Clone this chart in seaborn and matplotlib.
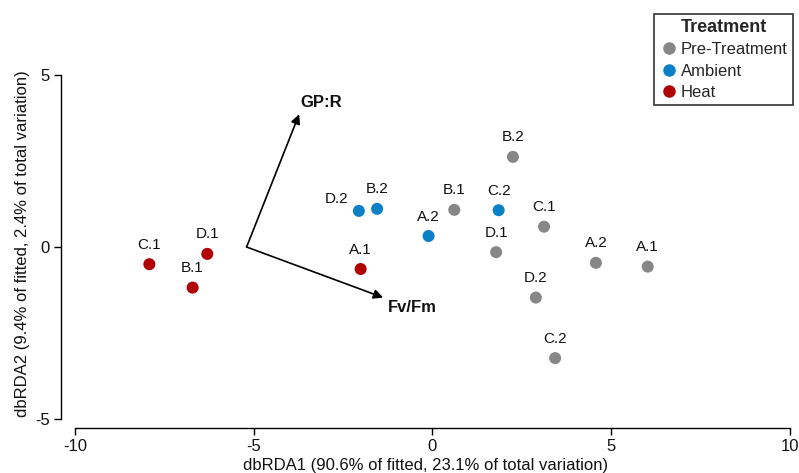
#!/usr/bin/env python3
"""dbRDA ordination plot: samples by treatment with fitted trait vectors."""

import matplotlib
matplotlib.use("Agg")
import matplotlib.pyplot as plt
import pandas as pd
import seaborn as sns

# sample scores (dbRDA1, dbRDA2)
pre_labels = ["B.2", "B.1", "C.2", "C.1", "D.1", "A.2", "A.1", "D.2"]
pre_x = [2.25, 0.61, 3.43, 3.12, 1.78, 4.57, 6.02, 2.89]
pre_y = [2.62, 1.08, -3.23, 0.59, -0.15, -0.46, -0.57, -1.47]

amb_labels = ["D.2", "B.2", "A.2", "C.2"]
amb_x = [-2.06, -1.55, -0.11, 1.85]
amb_y = [1.05, 1.11, 0.32, 1.07]

heat_labels = ["C.1", "B.1", "D.1", "A.1"]
heat_x = [-7.92, -6.71, -6.30, -2.01]
heat_y = [-0.50, -1.18, -0.20, -0.64]

treatments = ["Pre-Treatment", "Ambient", "Heat"]
colors = ["#878787", "#0b80c6", "#b00000"]

# fitted vectors
vec_names = ["GP:R", "Fv/Fm"]
vec_origin = (-5.20, 0.0)
vec_x = [-3.73, -1.38]
vec_y = [3.86, -1.47]

xlab = "dbRDA1 (90.6% of fitted, 23.1% of total variation)"
ylab = "dbRDA2 (9.4% of fitted, 2.4% of total variation)"


def main():
    df = pd.concat([
        pd.DataFrame({"x": pre_x, "y": pre_y, "label": pre_labels, "Treatment": treatments[0]}),
        pd.DataFrame({"x": amb_x, "y": amb_y, "label": amb_labels, "Treatment": treatments[1]}),
        pd.DataFrame({"x": heat_x, "y": heat_y, "label": heat_labels, "Treatment": treatments[2]}),
    ], ignore_index=True)

    sns.set_theme(style="white")
    plt.rcParams["font.family"] = ["Liberation Sans", "DejaVu Sans"]
    plt.rcParams["axes.unicode_minus"] = False

    W, H = 799, 473
    fig = plt.figure(figsize=(W / 100, H / 100), dpi=100)
    # axes box in pixels: left spine at x=61, bottom spine at y=428
    left, right, top, bottom = 61, 790, 60, 428
    ax = fig.add_axes([left / W, 1 - bottom / H, (right - left) / W, (bottom - top) / H])

    sns.scatterplot(data=df, x="x", y="y", hue="Treatment", hue_order=treatments,
                    palette=colors, s=75, edgecolor="none", ax=ax)

    # sample labels above each point
    nudge = {("Ambient", "D.2"): (-16, 8.5)}
    for _, r in df.iterrows():
        dx, dy = nudge.get((r["Treatment"], r["label"]), (0, 14))
        ax.annotate(r["label"], (r["x"], r["y"]), xytext=(dx, dy), textcoords="offset points",
                    ha="center", va="center", fontsize=11, color="#111111")

    # vectors
    label_off = [(16, 8.4), (21, -7)]
    for name, vx, vy, off in zip(vec_names, vec_x, vec_y, label_off):
        ax.annotate("", xy=(vx, vy), xytext=vec_origin,
                    arrowprops=dict(arrowstyle="-|>", mutation_scale=14, lw=1.2,
                                    color="black", shrinkA=0, shrinkB=0))
        ax.annotate(name, (vx, vy), xytext=off, textcoords="offset points",
                    ha="center", va="center", fontsize=12, fontweight="bold", color="#111111")

    # R-style axes with lines limited to tick range (x=-10 sits at px 75)
    px_per_x, px_per_y = 35.75, 34.4
    ax.set_xlim(-10 - (75 - left) / px_per_x, 10)
    ax.set_ylim(-5 - (bottom - 419) / px_per_y, 5 + (75 - top) / px_per_y)
    ax.set_xticks([-10, -5, 0, 5, 10])
    ax.set_yticks([-5, 0, 5])
    for s in ["top", "right"]:
        ax.spines[s].set_visible(False)
    ax.spines["left"].set_bounds(-5, 5)
    ax.spines["bottom"].set_bounds(-10, 10)
    for s in ["left", "bottom"]:
        ax.spines[s].set_color("black")
        ax.spines[s].set_linewidth(1.0)
    ax.tick_params(axis="both", direction="out", length=5, width=1.0, color="black",
                   labelsize=12, labelcolor="#111111", pad=3, bottom=True, left=True)
    ax.set_xlabel(xlab, fontsize=12, color="#111111", labelpad=3)
    ax.set_ylabel(ylab, fontsize=12, color="#111111", labelpad=4)

    sns.move_legend(ax, "upper right", bbox_to_anchor=(793 / W, 1 - 14 / H),
                    bbox_transform=fig.transFigure, frameon=True, fancybox=False,
                    edgecolor="black", fontsize=12, title="Treatment",
                    title_fontproperties={"weight": "bold", "size": 13},
                    borderpad=0.3, labelspacing=0.38, handletextpad=0.1,
                    handlelength=1.2, borderaxespad=0)
    leg = ax.get_legend()
    leg.get_frame().set_linewidth(1.2)
    for h in leg.legend_handles:
        h.set_markersize(9)

    fig.savefig("out.png", dpi=100)
    plt.close(fig)


if __name__ == "__main__":
    main()
